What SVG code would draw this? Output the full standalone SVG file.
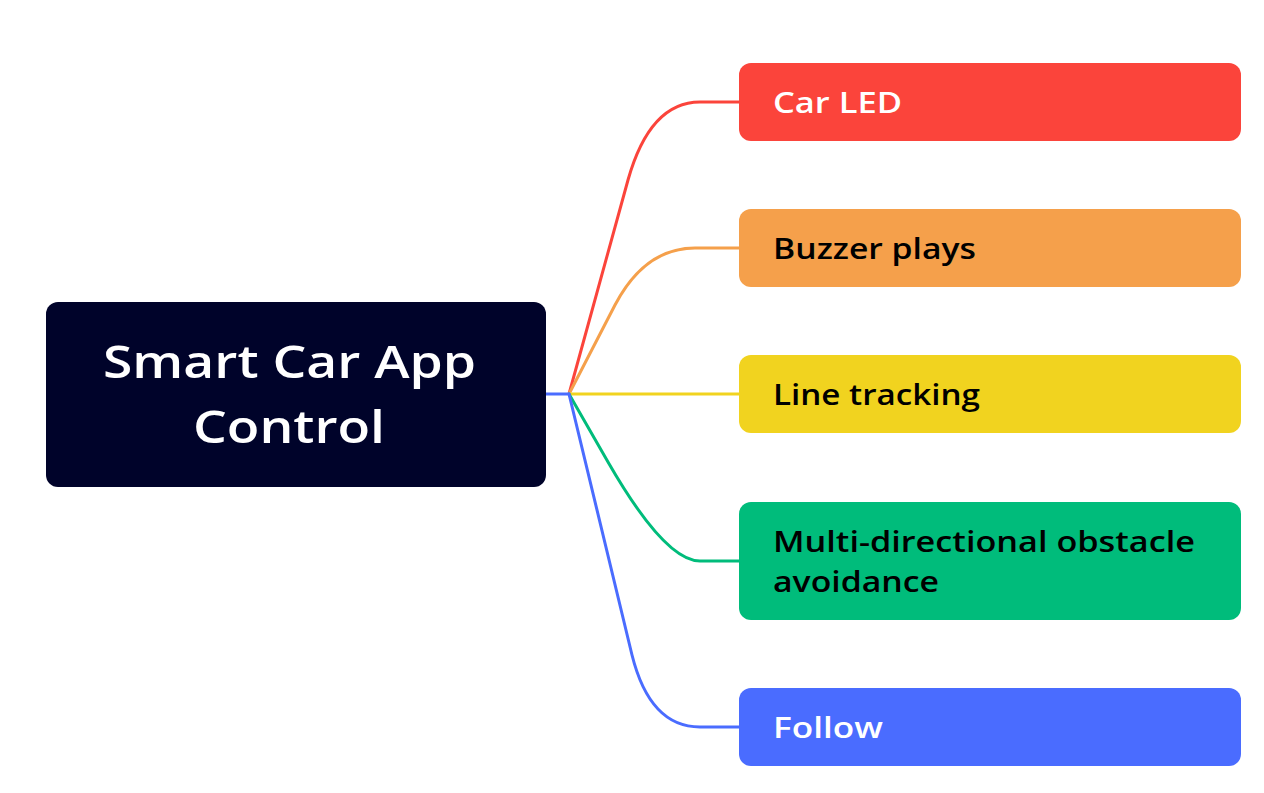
<svg xmlns="http://www.w3.org/2000/svg" width="1264" height="793" viewBox="0 0 1264 793">
<style>
.lbl{font-family:"Open Sans","Liberation Sans",sans-serif;font-weight:600;font-size:29px}
.root{font-family:"Open Sans","Liberation Sans",sans-serif;font-weight:600;font-size:46px;fill:#ffffff}
.c{fill:none;stroke-width:3;stroke-linecap:round;stroke-linejoin:round}
</style>
<rect width="1264" height="793" fill="#ffffff"/>
<g id="connectors">
<path class="c" stroke="#FB443B" d="M569,394 L628,180 Q650,102 700,102 H739"/>
<path class="c" stroke="#F5A04B" d="M569,394 L615,305 Q645,248 695,248 H739"/>
<path class="c" stroke="#F1D31F" d="M569,394 H739"/>
<path class="c" stroke="#00BC7B" d="M569,394 L608,462 Q665,561 700,561 H739"/>
<path class="c" stroke="#4A6CFF" d="M569,394 L632,655 Q650,727 700,727 H739"/>
<path class="c" stroke="#4A6CFF" d="M546,394 H569"/>
</g>
<g id="root">
<rect x="46" y="302" width="500" height="185" rx="12" fill="#00032A"/>
<text class="root" x="103" y="378" textLength="373" lengthAdjust="spacingAndGlyphs">Smart Car App</text>
<text class="root" x="193" y="443" textLength="192" lengthAdjust="spacingAndGlyphs">Control</text>
</g>
<g id="n1">
<rect x="739" y="63" width="502" height="78" rx="12" fill="#FB443B"/>
<text class="lbl" x="773" y="113" fill="#ffffff" textLength="129" lengthAdjust="spacingAndGlyphs">Car LED</text>
</g>
<g id="n2">
<rect x="739" y="209" width="502" height="78" rx="12" fill="#F5A04B"/>
<text class="lbl" x="773" y="259" fill="#000000" textLength="203" lengthAdjust="spacingAndGlyphs">Buzzer plays</text>
</g>
<g id="n3">
<rect x="739" y="355" width="502" height="78" rx="12" fill="#F1D31F"/>
<text class="lbl" x="773" y="405" fill="#000000" textLength="207" lengthAdjust="spacingAndGlyphs">Line tracking</text>
</g>
<g id="n4">
<rect x="739" y="502" width="502" height="118" rx="12" fill="#00BC7B"/>
<text class="lbl" x="773" y="552" fill="#000000" textLength="422" lengthAdjust="spacingAndGlyphs">Multi-directional obstacle</text>
<text class="lbl" x="773" y="592" fill="#000000" textLength="166" lengthAdjust="spacingAndGlyphs">avoidance</text>
</g>
<g id="n5">
<rect x="739" y="688" width="502" height="78" rx="12" fill="#4A6CFF"/>
<text class="lbl" x="773" y="738" fill="#ffffff" textLength="110" lengthAdjust="spacingAndGlyphs">Follow</text>
</g>
</svg>
